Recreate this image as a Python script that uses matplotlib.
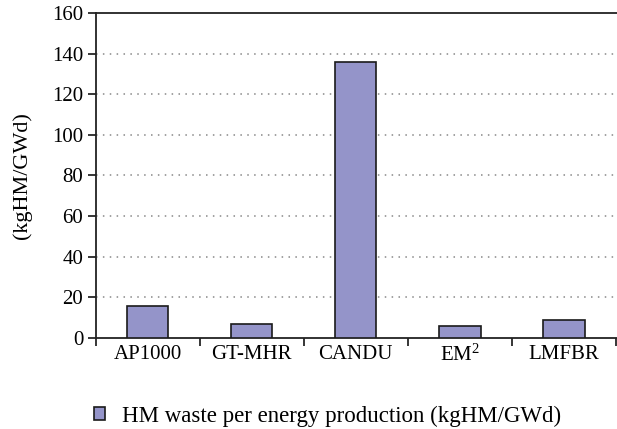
import matplotlib.pyplot as plt
import numpy as np

plt.rcParams['font.family'] = ['Liberation Serif', 'DejaVu Serif']
plt.rcParams['mathtext.default'] = 'regular'

# Data
reactors = ['AP1000', 'GT-MHR', 'CANDU', r'EM$^{2}$', 'LMFBR']
hm_waste = [15.4, 6.8, 136, 5.6, 8.6]
series_label = 'HM waste per energy production (kgHM/GWd)'
yticks = [0, 20, 40, 60, 80, 100, 120, 140, 160]

fig = plt.figure(figsize=(6.17, 4.29), dpi=100)
ax = fig.add_axes([0.155, 0.213, 0.848, 0.756])

x = np.arange(len(reactors))
ax.bar(x, hm_waste, width=0.4, color='#9494c9', edgecolor='#1a1a1a',
       linewidth=1.2, label=series_label, zorder=3)

# dotted gridlines
for v in yticks[1:-1]:
    ax.axhline(v, color='#888888', linestyle=(0, (1, 3.5)), linewidth=1.1, zorder=1)

ax.set_xlim(-0.5, len(reactors) - 0.47)
ax.set_ylim(0, 160)
ax.set_yticks(yticks)
ax.set_xticks(np.arange(-0.5, len(reactors), 1.0))
ax.set_xticklabels([])
ax.set_xticks(x, minor=True)
ax.set_xticklabels(reactors, minor=True)
ax.tick_params(axis='x', which='minor', length=0, pad=5, labelsize=15)
ax.tick_params(axis='x', which='major', length=6, width=1.1, direction='out')
ax.tick_params(axis='y', length=6, width=1.1, labelsize=15, pad=3)

for side in ['left', 'top', 'bottom']:
    ax.spines[side].set_color('#222222')
    ax.spines[side].set_linewidth(1.3)
ax.spines['right'].set_visible(False)

ax.set_ylabel('(kgHM/GWd)', fontsize=16)
ax.yaxis.set_label_coords(-0.122, 0.5)

fig.legend(loc='center left', bbox_to_anchor=(0.153, 0.03), frameon=False,
           fontsize=16.5, handlelength=0.45, handleheight=0.45, handletextpad=0.75,
           borderpad=0, borderaxespad=0)

plt.savefig('out.png', dpi=100)
